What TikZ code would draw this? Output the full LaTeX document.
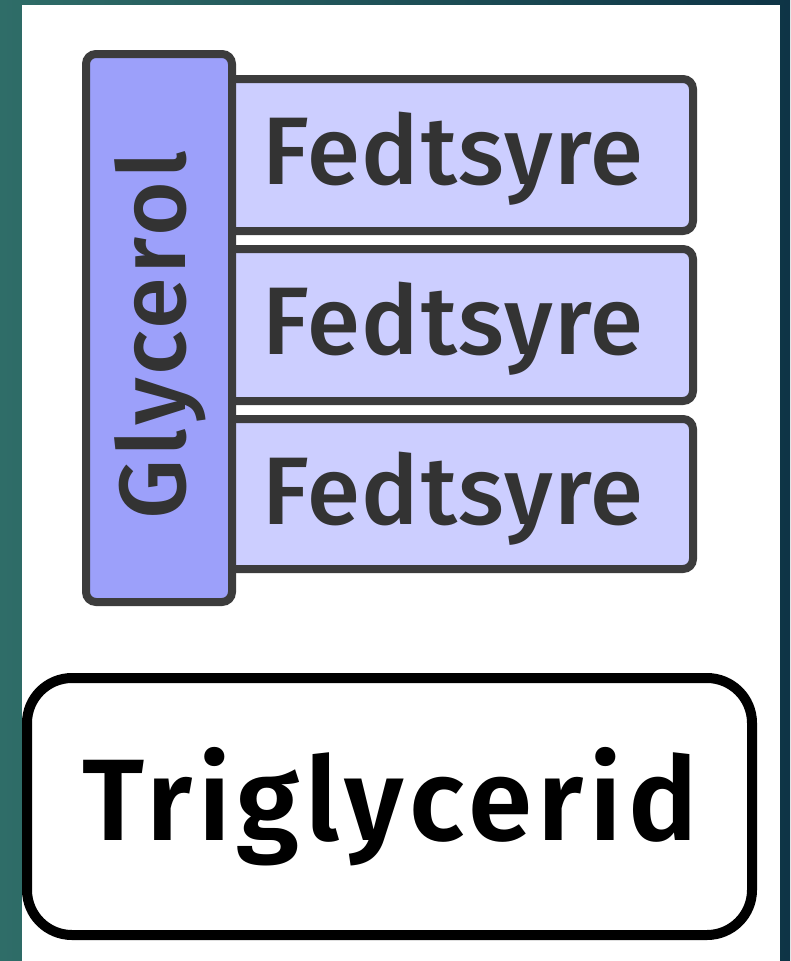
\documentclass[tikz,border=0pt]{standalone}
\usepackage{fontspec}
\setmainfont{Fira Sans}
\newfontfamily\labelfont[LetterSpace=1.6]{Fira Sans Medium}
\newfontfamily\sidefont[LetterSpace=3.6]{Fira Sans Medium}
\newfontfamily\titlefont[LetterSpace=5]{Fira Sans SemiBold}
\definecolor{tealL}{HTML}{2F6D68}
\definecolor{tealR}{HTML}{0E3446}
\definecolor{glyfill}{HTML}{9CA0FA}
\definecolor{acidfill}{HTML}{CCCEFF}
\definecolor{edgegray}{HTML}{3C3C3C}
\definecolor{inkgray}{HTML}{333333}
\tikzset{
  glybox/.style={draw=edgegray, fill=glyfill, line width=8pt, rounded corners=10pt},
  acidbox/.style={draw=edgegray, fill=acidfill, line width=8pt, rounded corners=10pt},
  acidlabel/.style={anchor=base, inner sep=0pt, text=inkgray,
    font=\labelfont\fontsize{96}{96}\selectfont},
  glylabel/.style={anchor=base, inner sep=0pt, text=inkgray, rotate=90,
    font=\sidefont\fontsize{94}{94}\selectfont},
  totalbox/.style={draw=black, fill=white, line width=10pt, rounded corners=45pt},
  totallabel/.style={anchor=base, inner sep=0pt, text=black,
    font=\titlefont\fontsize{116}{116}\selectfont},
}
\begin{document}
\begin{tikzpicture}[x=1pt, y=-1pt]
  \useasboundingbox (0,0) rectangle (790,961);
  % backdrop and white sheet
  \shade[left color=tealL, right color=tealR] (0,0) rectangle (790,961);
  \fill[white] (22,5) rectangle (780,961);

  % three fatty acid chains
  \draw[acidbox] (220,79) rectangle (693,231);
  \draw[acidbox] (220,249) rectangle (693,401);
  \draw[acidbox] (220,419) rectangle (693,569);
  \node[acidlabel] (fa1) at (453,184) {Fedtsyre};
  \node[acidlabel] (fa2) at (453,354) {Fedtsyre};
  \node[acidlabel] (fa3) at (453,524) {Fedtsyre};

  % glycerol backbone
  \draw[glybox] (86,54) rectangle (232,602);
  \node[glylabel] (gly) at (185,335) {Glycerol};

  % resulting molecule
  \draw[totalbox] (27,678) rectangle (752,935);
  \node[totallabel] (tri) at (390,840) {Triglycerid};
\end{tikzpicture}
\end{document}
